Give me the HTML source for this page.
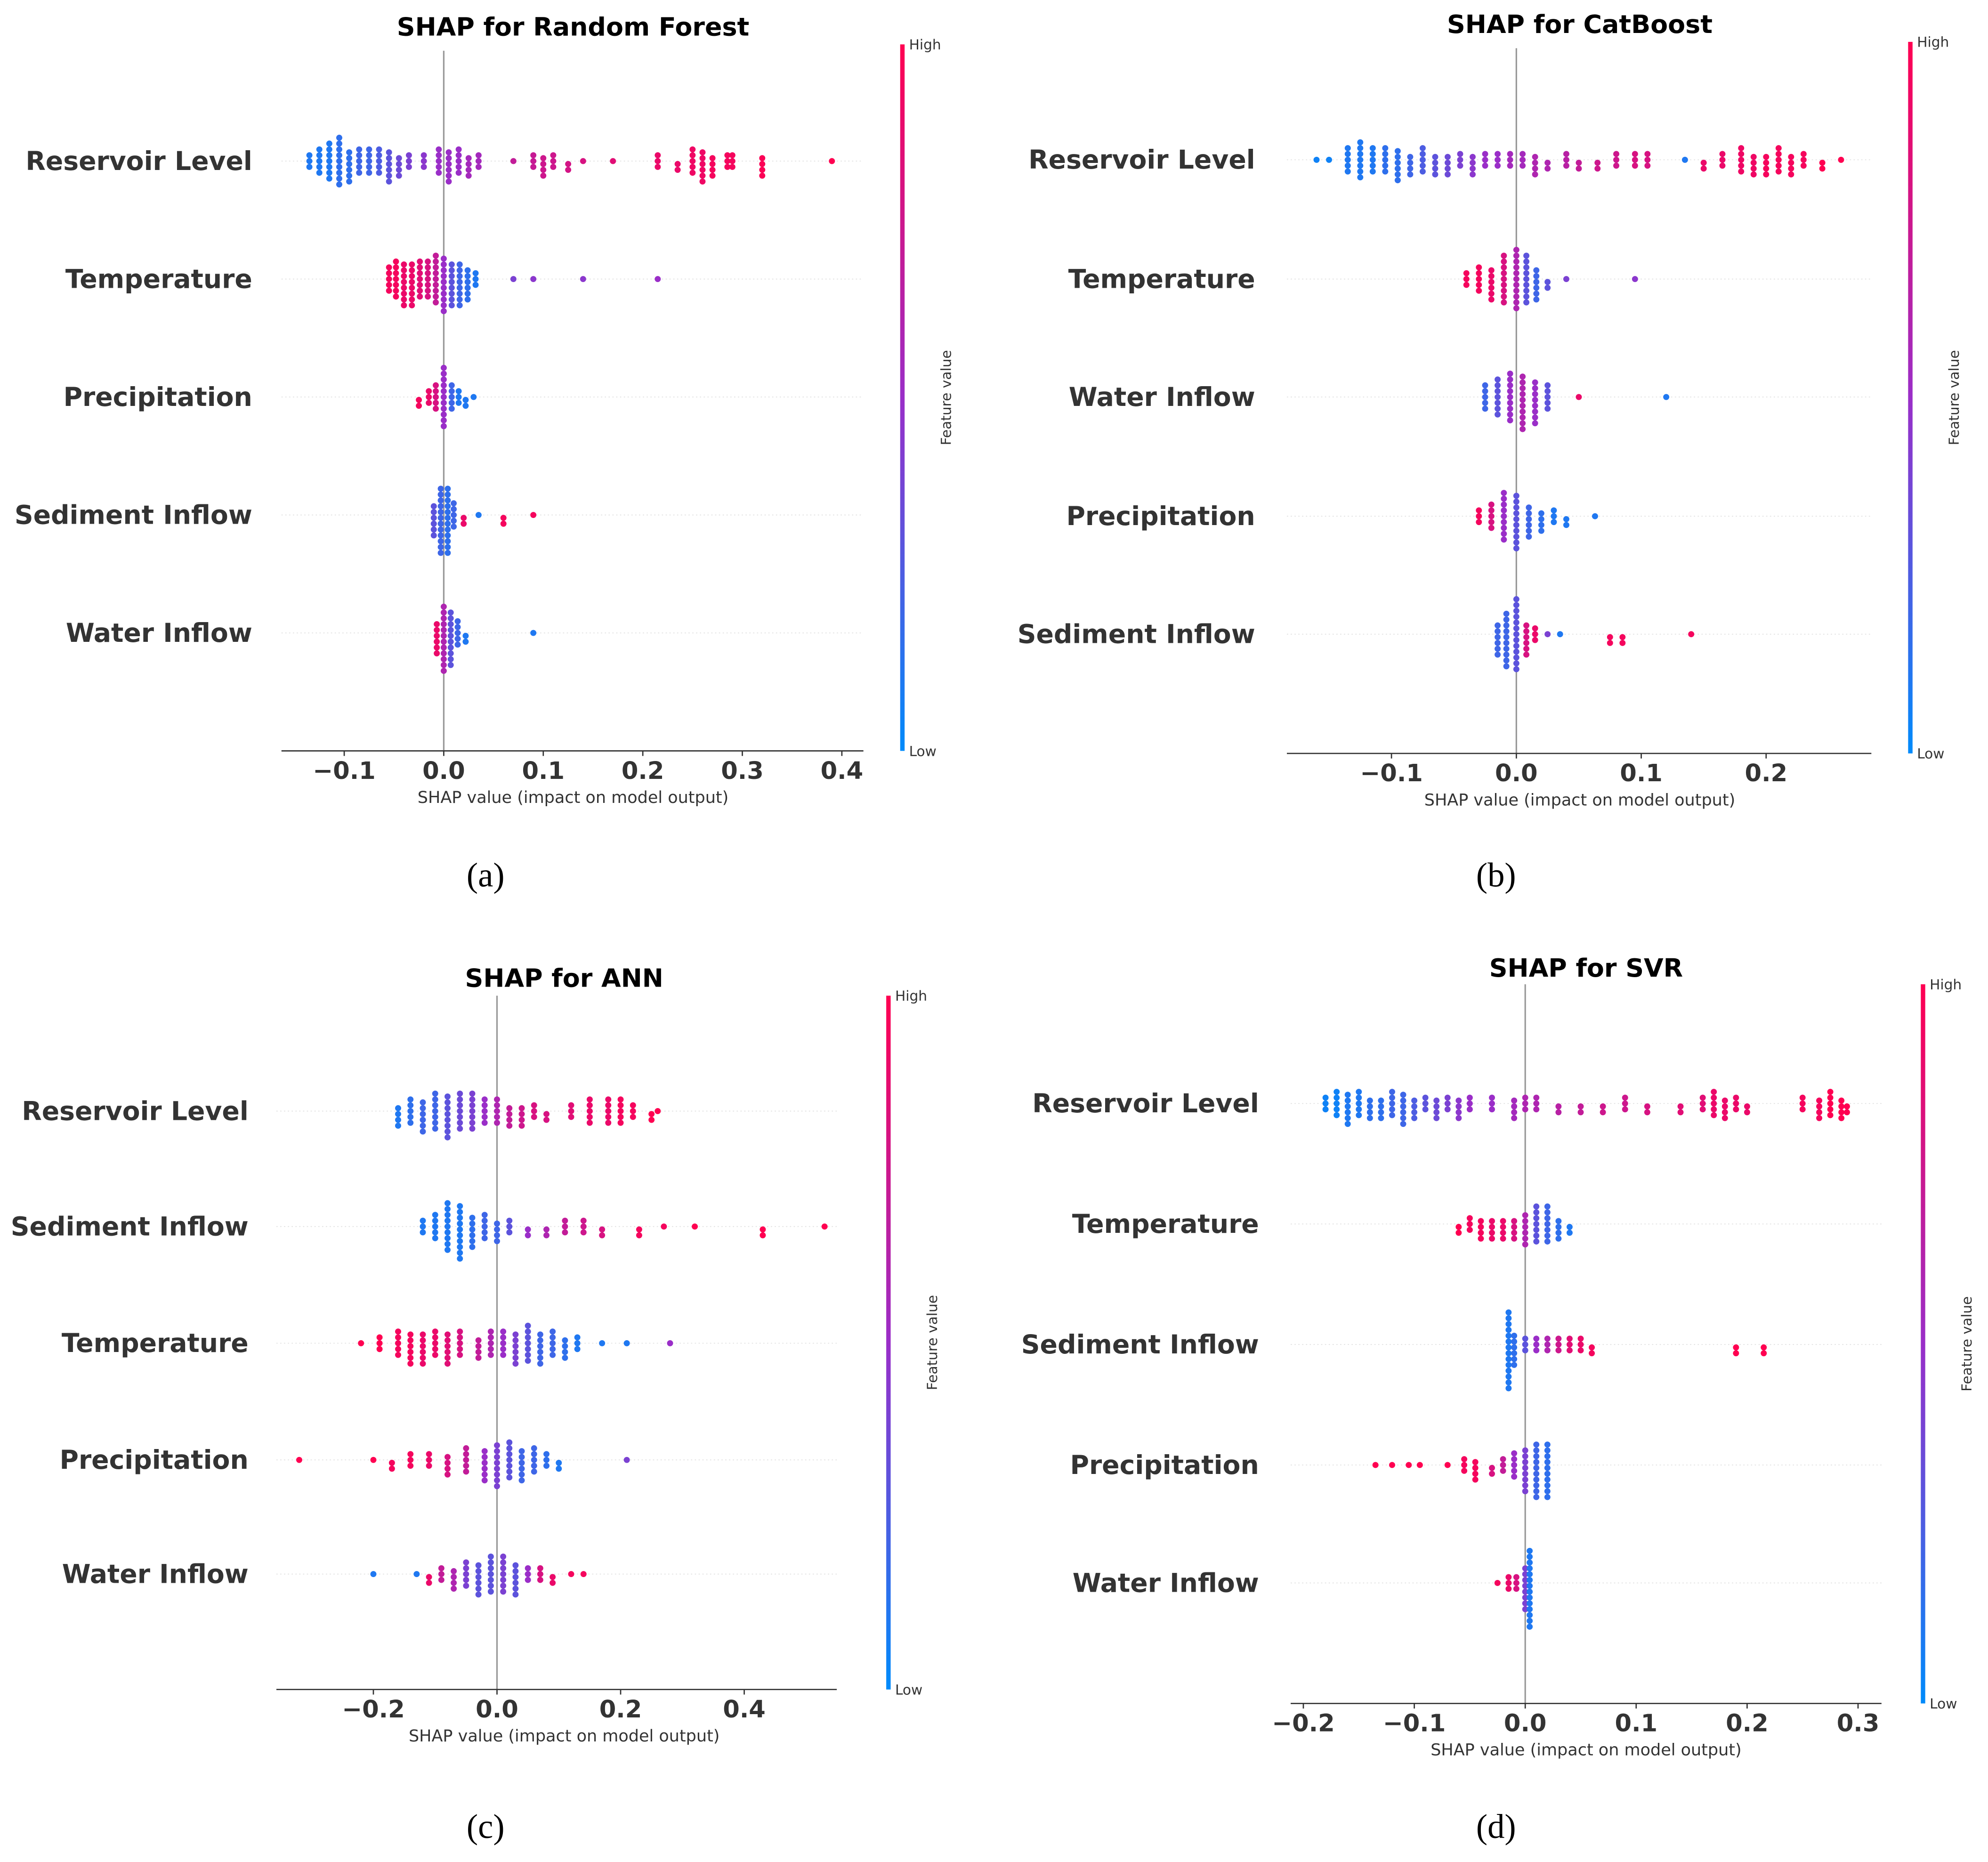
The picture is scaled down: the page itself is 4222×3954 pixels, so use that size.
<!DOCTYPE html>
<html><head><meta charset="utf-8"><style>
html,body{margin:0;padding:0;background:#fff}
svg{display:block}
text{font-family:"DejaVu Sans","Liberation Sans",sans-serif;fill:#333}
.feat{font-size:20.5px;font-weight:bold;text-anchor:end}
.tick{font-size:19px;font-weight:bold;text-anchor:middle}
.ttl{font-size:20px;font-weight:bold;text-anchor:middle;fill:#000}
.axl{font-size:13px;text-anchor:middle}
.cb{font-size:11px}
.cap{font-family:"Liberation Serif",serif;font-size:27px;text-anchor:middle;fill:#000}
</style></head><body>
<svg id="fig" width="4222" height="3954" viewBox="0 0 1568 1468" preserveAspectRatio="none" xmlns="http://www.w3.org/2000/svg">
<defs><linearGradient id="cbg" x1="0" y1="1" x2="0" y2="0">
<stop offset="0" stop-color="#008bfb"/><stop offset="0.5" stop-color="#9a2ec8"/><stop offset="1" stop-color="#ff0051"/></linearGradient></defs>
</svg>
<script>
// ---- data: [shap value, feature value (0 low..1 high), dot count] ----
const rfFeatures=["Reservoir Level","Temperature","Precipitation","Sediment Inflow","Water Inflow"];
const rfRes=[[-0.135,.1,3],[-0.125,.1,5],[-0.115,.1,7],[-0.105,.15,9],[-0.095,.15,6],[-0.085,.2,5],[-0.075,.2,5],[-0.065,.25,5],[-0.055,.3,6],[-0.045,.35,4],[-0.035,.4,3],[-0.02,.45,3],[-0.005,.5,5],[0.005,.5,6],[0.015,.5,5],[0.025,.55,4],[0.035,.55,3],[0.07,.7,1],[0.09,.72,3],[0.1,.75,4],[0.11,.75,3],[0.125,.78,2],[0.14,.8,1],[0.17,.85,1],[0.215,.9,3],[0.235,.9,2],[0.25,.92,5],[0.26,.92,6],[0.27,.95,4],[0.285,.95,3],[0.29,.95,3],[0.32,.98,4],[0.39,1,1]];
const rfTemp=[[-0.055,.95,5],[-0.048,.95,7],[-0.04,.9,8],[-0.032,.9,8],[-0.024,.85,7],[-0.016,.8,7],[-0.008,.7,9],[0,.5,10],[0.008,.3,8],[0.016,.2,8],[0.024,.15,6],[0.032,.1,3],[0.07,.4,1],[0.09,.45,1],[0.14,.45,1],[0.215,.5,1]];
const rfPrec=[[-0.025,.95,2],[-0.015,.9,3],[-0.008,.8,5],[0,.5,11],[0.008,.2,5],[0.015,.1,3],[0.022,.1,2],[0.03,.1,1]];
const rfSed=[[-0.01,.3,6],[-0.003,.2,12],[0.004,.15,12],[0.01,.2,5],[0.02,.9,2],[0.035,.1,1],[0.06,.95,2],[0.09,.95,1]];
const rfWat=[[-0.007,.9,6],[0,.6,12],[0.007,.3,10],[0.014,.2,5],[0.022,.1,2],[0.09,.1,1]];
const rfTicks=[-0.1,0.0,0.1,0.2,0.3,0.4];

const cbFeatures=["Reservoir Level","Temperature","Water Inflow","Precipitation","Sediment Inflow"];
const cbRes=[[-0.16,.05,1],[-0.15,.05,1],[-0.135,.1,5],[-0.125,.1,7],[-0.115,.1,5],[-0.105,.15,5],[-0.095,.15,6],[-0.085,.2,4],[-0.075,.25,5],[-0.065,.3,4],[-0.055,.35,4],[-0.045,.4,3],[-0.035,.45,4],[-0.025,.5,3],[-0.015,.5,3],[-0.005,.55,3],[0.005,.55,3],[0.015,.6,4],[0.025,.6,2],[0.04,.65,3],[0.05,.7,2],[0.065,.75,2],[0.08,.75,3],[0.095,.8,3],[0.105,.8,3],[0.135,.1,1],[0.15,.9,2],[0.165,.9,3],[0.18,.92,5],[0.19,.92,4],[0.2,.95,4],[0.21,.95,5],[0.22,.95,4],[0.23,.95,3],[0.245,1,2],[0.26,1,1]];
const cbTemp=[[-0.04,.95,3],[-0.03,.95,5],[-0.02,.9,6],[-0.01,.8,9],[0,.6,11],[0.008,.3,9],[0.016,.2,6],[0.025,.3,2],[0.04,.4,1],[0.095,.45,1]];
const cbWat=[[-0.025,.2,5],[-0.015,.3,7],[-0.005,.5,9],[0.005,.6,10],[0.015,.5,8],[0.025,.3,5],[0.05,.9,1],[0.12,.1,1]];
const cbPrec=[[-0.03,.95,3],[-0.02,.8,5],[-0.01,.5,9],[0,.3,10],[0.01,.2,6],[0.02,.15,4],[0.03,.1,3],[0.04,.1,2],[0.063,.1,1]];
const cbSed=[[-0.015,.2,6],[-0.008,.2,10],[0,.3,13],[0.008,.8,6],[0.015,.9,3],[0.025,.4,1],[0.035,.1,1],[0.075,.95,2],[0.085,.95,2],[0.14,.95,1]];
const cbTicks=[-0.1,0.0,0.1,0.2];

const annFeatures=["Reservoir Level","Sediment Inflow","Temperature","Precipitation","Water Inflow"];
const annRes=[[-0.16,.1,4],[-0.14,.15,5],[-0.12,.2,6],[-0.1,.2,7],[-0.08,.3,8],[-0.06,.35,7],[-0.04,.4,7],[-0.02,.5,5],[0,.6,5],[0.02,.7,4],[0.04,.75,4],[0.06,.8,3],[0.08,.8,2],[0.12,.85,3],[0.15,.9,5],[0.18,.9,5],[0.2,.95,5],[0.22,.95,3],[0.25,1,2],[0.26,1,1]];
const annSed=[[-0.12,.1,3],[-0.1,.1,5],[-0.08,.1,9],[-0.06,.1,10],[-0.04,.15,6],[-0.02,.2,5],[0,.2,4],[0.02,.3,3],[0.05,.5,2],[0.08,.6,2],[0.11,.7,3],[0.14,.75,3],[0.17,.8,2],[0.23,.95,2],[0.27,.95,1],[0.32,1,1],[0.43,1,2],[0.53,1,1]];
const annTemp=[[-0.22,1,1],[-0.19,1,3],[-0.16,.95,5],[-0.14,.95,6],[-0.12,.9,6],[-0.1,.9,5],[-0.08,.85,6],[-0.06,.8,5],[-0.03,.7,4],[-0.01,.6,5],[0.01,.5,5],[0.03,.4,6],[0.05,.3,7],[0.07,.2,6],[0.09,.2,5],[0.11,.15,4],[0.13,.1,3],[0.17,.1,1],[0.21,.1,1],[0.28,.5,1]];
const annPrec=[[-0.32,1,1],[-0.2,1,1],[-0.17,.95,2],[-0.14,.95,3],[-0.11,.9,3],[-0.08,.8,4],[-0.05,.7,5],[-0.02,.5,6],[0,.4,8],[0.02,.3,7],[0.04,.2,6],[0.06,.2,5],[0.08,.15,3],[0.1,.1,2],[0.21,.4,1]];
const annWat=[[-0.2,.1,1],[-0.13,.1,1],[-0.11,.9,2],[-0.09,.7,3],[-0.07,.6,4],[-0.05,.4,5],[-0.03,.3,6],[-0.01,.3,7],[0.01,.4,7],[0.03,.3,6],[0.05,.5,3],[0.07,.8,3],[0.09,.9,2],[0.12,.95,1],[0.14,.95,1]];
const annTicks=[-0.2,0.0,0.2,0.4];

const svrFeatures=["Reservoir Level","Temperature","Sediment Inflow","Precipitation","Water Inflow"];
const svrRes=[[-0.18,.05,3],[-0.17,.05,5],[-0.16,.1,6],[-0.15,.1,5],[-0.14,.15,4],[-0.13,.15,4],[-0.12,.2,5],[-0.11,.2,6],[-0.1,.25,4],[-0.09,.3,3],[-0.08,.35,4],[-0.07,.4,3],[-0.06,.45,4],[-0.05,.5,3],[-0.03,.5,3],[-0.01,.55,4],[0,.6,3],[0.01,.6,3],[0.03,.65,2],[0.05,.7,2],[0.07,.75,2],[0.09,.75,3],[0.11,.8,2],[0.14,.85,2],[0.16,.85,3],[0.17,.9,5],[0.18,.9,4],[0.19,.9,3],[0.2,.9,2],[0.25,.95,3],[0.265,.95,4],[0.275,1,5],[0.285,1,4],[0.29,1,2]];
const svrTemp=[[-0.06,1,2],[-0.05,.95,3],[-0.04,.95,4],[-0.03,.9,4],[-0.02,.9,4],[-0.01,.8,4],[0,.6,6],[0.01,.3,7],[0.02,.2,7],[0.03,.15,4],[0.04,.1,2]];
const svrSed=[[-0.015,.1,14],[-0.01,.15,6],[0,.3,3],[0.01,.5,3],[0.02,.6,3],[0.03,.75,3],[0.04,.85,3],[0.05,.9,3],[0.06,.95,2],[0.19,1,2],[0.215,1,2]];
const svrPrec=[[-0.135,1,1],[-0.12,1,1],[-0.105,1,1],[-0.095,1,1],[-0.07,1,1],[-0.055,.95,3],[-0.045,.95,4],[-0.03,.8,2],[-0.02,.7,3],[-0.01,.5,5],[0,.4,8],[0.01,.2,10],[0.02,.15,10]];
const svrWat=[[-0.025,.95,1],[-0.015,.9,3],[-0.008,.8,3],[0,.4,8],[0.004,.1,14]];
const svrTicks=[-0.2,-0.1,0.0,0.1,0.2,0.3];

const NS="http://www.w3.org/2000/svg";
const fig=document.getElementById('fig');
function el(tag,attrs,parent,txt){const e=document.createElementNS(NS,tag);for(const k in attrs)e.setAttribute(k,attrs[k]);if(txt!==undefined)e.textContent=txt;(parent||fig).appendChild(e);return e;}
function lerp(a,b,t){return Math.round(a+(b-a)*t);}
function color(v){const B=[0,139,251],M=[154,46,200],R=[255,0,81];let a,b,t;if(v<0.5){a=B;b=M;t=v/0.5}else{a=M;b=R;t=(v-0.5)/0.5}return `rgb(${lerp(a[0],b[0],t)},${lerp(a[1],b[1],t)},${lerp(a[2],b[2],t)})`;}
function fmt(v){return (v<0?"\u2212":"")+Math.abs(v).toFixed(1);}

function panel(p){
  const g=el('g',{},fig);
  
  
  const sx=v=>p.x0+v*p.pxPer;
  const t=el('text',{x:p.titleX,y:p.titleY,class:'ttl'},g,p.title);
  
  p.rows.forEach((ry,i)=>{
    const gl=el('line',{x1:p.axL,x2:p.axR,y1:ry,y2:ry,stroke:'#ddd','stroke-width':0.6,'stroke-dasharray':'1,2'},g);
    
    const lb=el('text',{x:p.labX,y:ry+7,class:'feat'},g,p.features[i]);
    
  });
  const zl=el('line',{x1:sx(0),x2:sx(0),y1:p.zTop,y2:p.axY,stroke:'#999','stroke-width':1.2},g);
  
  p.series.forEach((ser,i)=>{
    const ry=p.rows[i];const d=4.6;
    ser.forEach(pt=>{
      const [v,f,n]=pt;
      for(let k=0;k<n;k++){
        let off=Math.ceil(k/2)*d*(k%2?1:-1);
        if(n%2===0)off+=d/2;
        const c=el('circle',{cx:sx(v),cy:ry+off,r:2.4,fill:color(f)},g);
        
        
      }
    });
  });
  const ax=el('line',{x1:p.axL,x2:p.axR,y1:p.axY,y2:p.axY,stroke:'#333','stroke-width':1},g);
  
  p.ticks.forEach(tv=>{
    el('line',{x1:sx(tv),x2:sx(tv),y1:p.axY,y2:p.axY+4,stroke:'#333','stroke-width':1},g);
    const tl=el('text',{x:sx(tv),y:p.axY+22,class:'tick'},g,fmt(tv));
    
  });
  const al=el('text',{x:p.titleX,y:p.axY+41,class:'axl'},g,'SHAP value (impact on model output)');
  
  const cb=el('rect',{x:p.cbX,y:p.cbT,width:3.5,height:p.axY-p.cbT,fill:'url(#cbg)'},g);
  
  el('text',{x:p.cbX+7,y:p.cbT+4,class:'cb'},g,'High');
  el('text',{x:p.cbX+7,y:p.axY+4,class:'cb'},g,'Low');
  const fy=(p.cbT+p.axY)/2;
  const fv=el('text',{x:p.cbX+40,y:fy,class:'cb','text-anchor':'middle',transform:`rotate(-90 ${p.cbX+40} ${fy})`},g,'Feature value');
  
  const cp=el('text',{x:p.capX,y:p.capY,class:'cap'},g,p.cap);
  
}

panel({name:'panel-random-forest',title:'SHAP for Random Forest',titleX:452,titleY:28,x0:350,pxPer:785,axL:222,axR:681,axY:592,zTop:40,
  rows:[127,220,313,406,499],labX:199,features:rfFeatures,series:[rfRes,rfTemp,rfPrec,rfSed,rfWat],ticks:rfTicks,cbX:710,cbT:35,capX:383,capY:699,cap:'(a)'});
panel({name:'panel-catboost',title:'SHAP for CatBoost',titleX:1246,titleY:26,x0:1196,pxPer:985,axL:1015,axR:1476,axY:594,zTop:38,
  rows:[126,220,313,407,500],labX:990,features:cbFeatures,series:[cbRes,cbTemp,cbWat,cbPrec,cbSed],ticks:cbTicks,cbX:1505,cbT:33,capX:1180,capY:699,cap:'(b)'});
panel({name:'panel-ann',title:'SHAP for ANN',titleX:445,titleY:778,x0:392,pxPer:487.5,axL:218,axR:660,axY:1332,zTop:785,
  rows:[876,967,1059,1151,1241],labX:196,features:annFeatures,series:[annRes,annSed,annTemp,annPrec,annWat],ticks:annTicks,cbX:699,cbT:785,capX:383,capY:1449,cap:'(c)'});
panel({name:'panel-svr',title:'SHAP for SVR',titleX:1251,titleY:770,x0:1203,pxPer:875,axL:1018,axR:1484,axY:1343,zTop:776,
  rows:[870,965,1060,1155,1248],labX:993,features:svrFeatures,series:[svrRes,svrTemp,svrSed,svrPrec,svrWat],ticks:svrTicks,cbX:1515,cbT:776,capX:1180,capY:1449,cap:'(d)'});
</script>
</body></html>
